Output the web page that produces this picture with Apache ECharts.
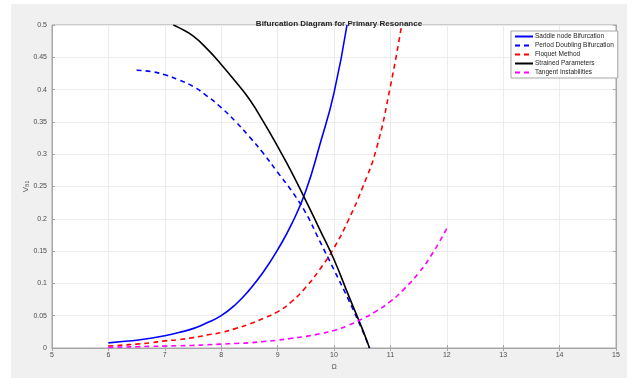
<!DOCTYPE html>
<html>
<head>
<meta charset="utf-8">
<script src="https://cdn.jsdelivr.net/npm/echarts@6/dist/echarts.min.js"></script>
<style>
  html, body { margin: 0; padding: 0; background: #fff; }
  #chart { width: 633px; height: 378px; }
</style>
</head>
<body>
<div id="chart"></div>
<script>
// values
var seriesNames = ['Saddle node Bifurcation', 'Period Doubling Bifurcation', 'Floquet Method',
    'Strained Parameters', 'Tangent Instabilities'];

var saddleX = [6, 6.25, 6.5, 6.75, 7, 7.25, 7.5, 7.75, 8, 8.25, 8.5, 8.75, 9, 9.25, 9.5, 9.75, 10, 10.23];
var saddleY = [0.008, 0.010, 0.012, 0.015, 0.019, 0.024, 0.030, 0.039, 0.050, 0.067, 0.090, 0.118, 0.152,
    0.192, 0.243, 0.315, 0.395, 0.5];

var periodX = [6.5, 6.75, 7, 7.25, 7.5, 7.75, 8, 8.25, 8.5, 8.75, 9, 9.25, 9.5, 9.75, 10, 10.25, 10.5, 10.63];
var periodY = [0.430, 0.428, 0.423, 0.415, 0.405, 0.390, 0.372, 0.351, 0.327, 0.301, 0.272, 0.243, 0.209,
    0.165, 0.121, 0.076, 0.028, 0];

var floquetX = [6, 6.25, 6.5, 6.75, 7, 7.25, 7.5, 7.75, 8, 8.25, 8.5, 8.75, 9, 9.25, 9.5, 9.75, 10, 10.25,
    10.5, 10.75, 11, 11.2];
var floquetY = [0.003, 0.0045, 0.006, 0.008, 0.011, 0.013, 0.016, 0.020, 0.024, 0.030, 0.037, 0.046, 0.056,
    0.072, 0.094, 0.122, 0.155, 0.197, 0.247, 0.308, 0.405, 0.5];

var strainedX = [7.15, 7.25, 7.5, 7.75, 8, 8.25, 8.5, 8.75, 9, 9.25, 9.5, 9.75, 10, 10.25, 10.5, 10.63];
var strainedY = [0.5, 0.496, 0.483, 0.463, 0.439, 0.413, 0.385, 0.350, 0.312, 0.272, 0.228, 0.183, 0.137,
    0.083, 0.03, 0];

var tangentX = [6, 6.25, 6.5, 6.75, 7, 7.25, 7.5, 7.75, 8, 8.25, 8.5, 8.75, 9, 9.25, 9.5, 9.75, 10, 10.25,
    10.5, 10.75, 11, 11.25, 11.5, 11.75, 12];
var tangentY = [0.001, 0.0015, 0.002, 0.0025, 0.003, 0.0035, 0.004, 0.005, 0.006, 0.007, 0.008, 0.010, 0.012,
    0.015, 0.018, 0.022, 0.027, 0.035, 0.045, 0.057, 0.072, 0.092, 0.116, 0.147, 0.185];

function pairs(xs, ys) {
    var out = [];
    for (var i = 0; i < xs.length; i++) out.push([xs[i], ys[i]]);
    return out;
}

function makeLine(name, xs, ys, color, type) {
    return {
        name: name,
        type: 'line',
        data: pairs(xs, ys),
        smooth: true,
        symbol: 'none',
        clip: true,
        lineStyle: { color: color, width: 1.6, type: type === 'dashed' ? [5, 4] : 'solid' },
        itemStyle: { color: color }
    };
}

var font = 'Liberation Sans, Arial, sans-serif';
var axisGray = '#a6a6a6';
var labelGray = '#4d4d4d';

var chart = echarts.init(document.getElementById('chart'));
var option = {
    backgroundColor: '#ffffff',
    animation: false,
    graphic: [{
        type: 'rect',
        z: -10,
        silent: true,
        shape: { x: 11, y: 4, width: 616, height: 374 },
        style: { fill: '#f0f0f0' }
    }],
    title: {
        text: 'Bifurcation Diagram for Primary Resonance',
        left: 334,
        textAlign: 'center',
        top: 15,
        textStyle: { fontFamily: font, fontSize: 8, fontWeight: 'bold', color: '#262626' }
    },
    legend: {
        orient: 'vertical',
        left: 511,
        top: 31,
        itemWidth: 18,
        itemHeight: 6,
        itemGap: 2,
        padding: [2, 4, 2, 3],
        backgroundColor: '#ffffff',
        borderColor: '#a6a6a6',
        borderWidth: 1,
        borderRadius: 0,
        itemStyle: { opacity: 0 },
        textStyle: { fontFamily: font, fontSize: 6.5, color: '#262626', padding: [0, 0, 0, -3] },
        data: seriesNames
    },
    grid: {
        left: 52, top: 25, width: 564, height: 323,
        show: true, backgroundColor: '#ffffff', borderColor: axisGray, borderWidth: 1
    },
    xAxis: [{
        type: 'value', min: 5, max: 15, interval: 1,
        name: 'Ω', nameLocation: 'middle', nameGap: 14,
        nameTextStyle: { fontFamily: font, fontSize: 7, color: labelGray },
        axisLine: { show: true, onZero: false, lineStyle: { color: axisGray } },
        axisTick: { show: true, inside: true, length: 3, lineStyle: { color: axisGray } },
        axisLabel: { fontFamily: font, fontSize: 7, color: labelGray, margin: 4 },
        splitLine: { show: true, lineStyle: { color: '#ececec', width: 1 } }
    }, {
        type: 'value', min: 5, max: 15, interval: 1, position: 'top',
        axisLine: { show: true, lineStyle: { color: axisGray } },
        axisTick: { show: true, inside: true, length: 3, lineStyle: { color: axisGray } },
        axisLabel: { show: false },
        splitLine: { show: false }
    }],
    yAxis: [{
        type: 'value', min: 0, max: 0.5, interval: 0.05,
        name: '{v|V}{s|B1}', nameLocation: 'middle', nameGap: 22, nameRotate: 90,
        nameMoveOverlap: false,
        nameTextStyle: {
            fontFamily: font, color: labelGray,
            rich: {
                v: { fontFamily: font, fontSize: 8, color: labelGray },
                s: { fontFamily: font, fontSize: 5, color: labelGray, verticalAlign: 'bottom', padding: [4, 0, 0, 0] }
            }
        },
        axisLine: { show: true, lineStyle: { color: axisGray } },
        axisTick: { show: true, inside: true, length: 3, lineStyle: { color: axisGray } },
        axisLabel: {
            fontFamily: font, fontSize: 7, color: labelGray, margin: 5,
            formatter: function (v) { return String(+v.toFixed(2)); }
        },
        splitLine: { show: true, lineStyle: { color: '#ececec', width: 1 } }
    }, {
        type: 'value', min: 0, max: 0.5, interval: 0.05, position: 'right',
        axisLine: { show: true, lineStyle: { color: axisGray } },
        axisTick: { show: true, inside: true, length: 3, lineStyle: { color: axisGray } },
        axisLabel: { show: false },
        splitLine: { show: false }
    }],
    series: [
        makeLine(seriesNames[0], saddleX, saddleY, '#0000ff', 'solid'),
        makeLine(seriesNames[1], periodX, periodY, '#0000ff', 'dashed'),
        makeLine(seriesNames[2], floquetX, floquetY, '#ff0000', 'dashed'),
        makeLine(seriesNames[3], strainedX, strainedY, '#000000', 'solid'),
        makeLine(seriesNames[4], tangentX, tangentY, '#ff00ff', 'dashed')
    ]
};
chart.setOption(option);
</script>
</body>
</html>
